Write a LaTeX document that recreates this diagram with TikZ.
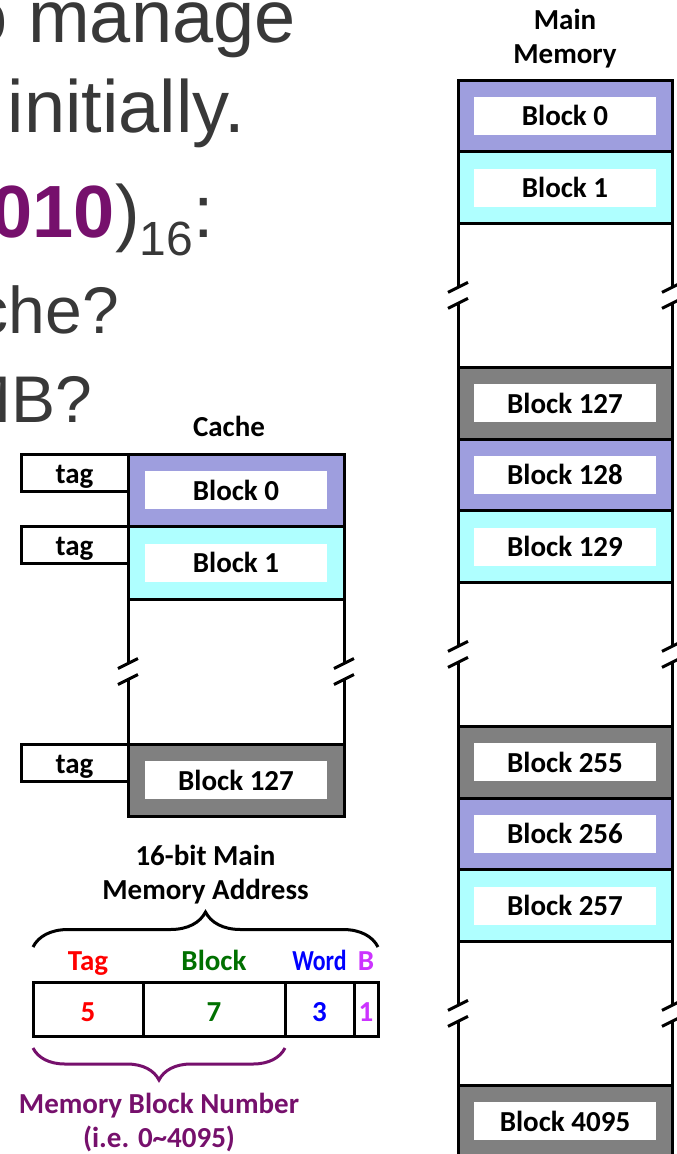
\documentclass[tikz,border=0pt]{standalone}
\usepackage{fontspec}
\usepackage{graphicx}
\setmainfont{Carlito}
\newfontfamily\slidefont{Liberation Sans}
\usetikzlibrary{positioning, calc, decorations.pathreplacing}

\definecolor{lavender}{RGB}{158,158,222}
\definecolor{paleaqua}{RGB}{175,255,255}
\definecolor{slab}{RGB}{128,128,128}
\definecolor{slidegray}{RGB}{56,56,56}
\definecolor{slidepurple}{RGB}{118,16,108}
\definecolor{tagred}{RGB}{255,0,0}
\definecolor{blockgreen}{RGB}{0,112,0}
\definecolor{wordblue}{RGB}{0,0,255}
\definecolor{bytepink}{RGB}{204,51,255}

\begin{document}
\begin{tikzpicture}[x=1pt, y=-1pt,
    lblfont/.style={font=\bfseries\fontsize{29}{34}\selectfont},
    wall/.style={line width=3pt},
    cell/.style={draw, line width=3pt, inner sep=0, outer sep=0},
    memcell/.style={cell, minimum width=214pt, minimum height=71.8pt},
    cachecell/.style={cell, minimum width=216pt, minimum height=72.5pt},
    blocklbl/.style={lblfont, fill=white, inner sep=0, minimum width=182pt, minimum height=38pt},
    tagbox/.style={cell, lblfont, minimum width=107pt, minimum height=37pt, text height=22pt, text depth=1pt},
    field/.style={cell, lblfont, minimum height=54pt, text height=24pt, text depth=0pt},
    fieldlbl/.style={lblfont, anchor=base, inner sep=0},
    heading/.style={lblfont, align=center, inner sep=0},
    curly/.style={decorate, line width=3pt},
    slidetext/.style={inner sep=0, text=slidegray, font=\slidefont\fontsize{74}{90}\selectfont},
    subtext/.style={slidetext, font=\slidefont\fontsize{66}{80}\selectfont}]

  \useasboundingbox (0,0) rectangle (677,1154);
  \clip (0,0) rectangle (677,1154);

  % Texto de la diapositiva (recortado a la izquierda)
  \node[slidetext, anchor=base east] (line1) at (296,42) {o manage};
  \node[slidetext, anchor=base east] (line2) at (245,132) {initially.};
  \node[slidetext, anchor=base west] (line3) at (-8.5,237)
    {{\bfseries\color{slidepurple}010})\raisebox{-18pt}{\fontsize{48}{48}\selectfont 16}:};
  \node[subtext, anchor=base east] (line4) at (119,333) {che?};
  \node[subtext, anchor=base east] (line5) at (92,422) {MB?};

  % Memoria principal
  \foreach \name/\row/\shade/\txt in {mb0/0/lavender/0, mb1/1/paleaqua/1,
      mb127/4/slab/127, mb128/5/lavender/128, mb129/6/paleaqua/129,
      mb255/9/slab/255, mb256/10/lavender/256, mb257/11/paleaqua/257,
      mb4095/14/slab/4095} {
    \node[memcell, fill=\shade] (\name) at (565, {80+71.8*(\row+0.5)}) {};
    \node[blocklbl] (\name-l) at (\name) {Block \txt};
  }
  \node[heading, above=11.5pt of mb0] (memhd) {Main\\Memory};

  % Cache con sus etiquetas tag
  \foreach \name/\row/\shade/\txt in {cc0/0/lavender/0, cc1/1/paleaqua/1, cc127/4/slab/127} {
    \node[cachecell, fill=\shade] (\name) at (236, {454+72.5*(\row+0.5)}) {};
    \node[blocklbl] (\name-l) at (\name) {Block \txt};
    \node[tagbox, anchor=north east] (\name-tag) at (\name.north west) {tag};
  }
  \node[heading, above=17pt of cc0, xshift=-7pt] (cachehd) {Cache};

  % Tramos omitidos con marcas de corte
  \foreach \a/\b in {mb1/mb127, mb129/mb255, mb257/mb4095, cc1/cc127} {
    \foreach \side in {west, east} {
      \coordinate (brk) at ($(\a.south \side)!0.5!(\b.north \side)$);
      \draw[wall] (\a.south \side) -- ($(brk)+(0,-8)$);
      \draw[wall] ($(brk)+(0,8)$) -- (\b.north \side);
      \draw[wall] ($(brk)+(-10,-3)$) -- ++(20,-10);
      \draw[wall] ($(brk)+(-10,13)$) -- ++(20,-10);
    }
  }

  % Direccion de 16 bits
  \node[field, minimum width=110pt, anchor=north west, text=tagred] (ftag) at (33,982) {5};
  \node[field, minimum width=142pt, anchor=west, text=blockgreen] (fblk) at (ftag.east) {7};
  \node[field, minimum width=69pt, anchor=west, text=wordblue] (fword) at (fblk.east) {3};
  \node[field, minimum width=24pt, anchor=west, text=bytepink] (fbyte) at (fword.east) {1};

  \node[fieldlbl, text=tagred] (ltag) at ([yshift=12pt]ftag.north) {Tag};
  \node[fieldlbl, text=blockgreen] (lblk) at ([yshift=12pt]fblk.north) {Block};
  \node[fieldlbl, text=wordblue] (lword) at ([yshift=12pt]fword.north) {\scalebox{0.82}[1]{Word}};
  \node[fieldlbl, text=bytepink] (lbyte) at ([yshift=12pt]fbyte.north) {B};

  % Llaves
  \draw[curly, decoration={brace, amplitude=35pt}]
    ([yshift=35pt]ftag.north west) -- ([yshift=35pt]fbyte.north east);
  \coordinate (toptip) at ($(ftag.north west)!0.5!(fbyte.north east)+(0,-70)$);
  \node[heading, above=8pt of toptip] (addrhd) {16-bit Main\\Memory Address};

  \draw[curly, slidepurple, decoration={brace, amplitude=32pt}]
    ([yshift=-12pt]fword.south west) -- ([yshift=-12pt]ftag.south west);
  \coordinate (bottip) at ($(ftag.south west)!0.5!(fword.south west)+(0,44)$);
  \node[heading, text=slidepurple, below=13pt of bottip] (mbnum)
    {Memory Block Number\\(i.e. 0\textasciitilde 4095)};

\end{tikzpicture}
\end{document}
